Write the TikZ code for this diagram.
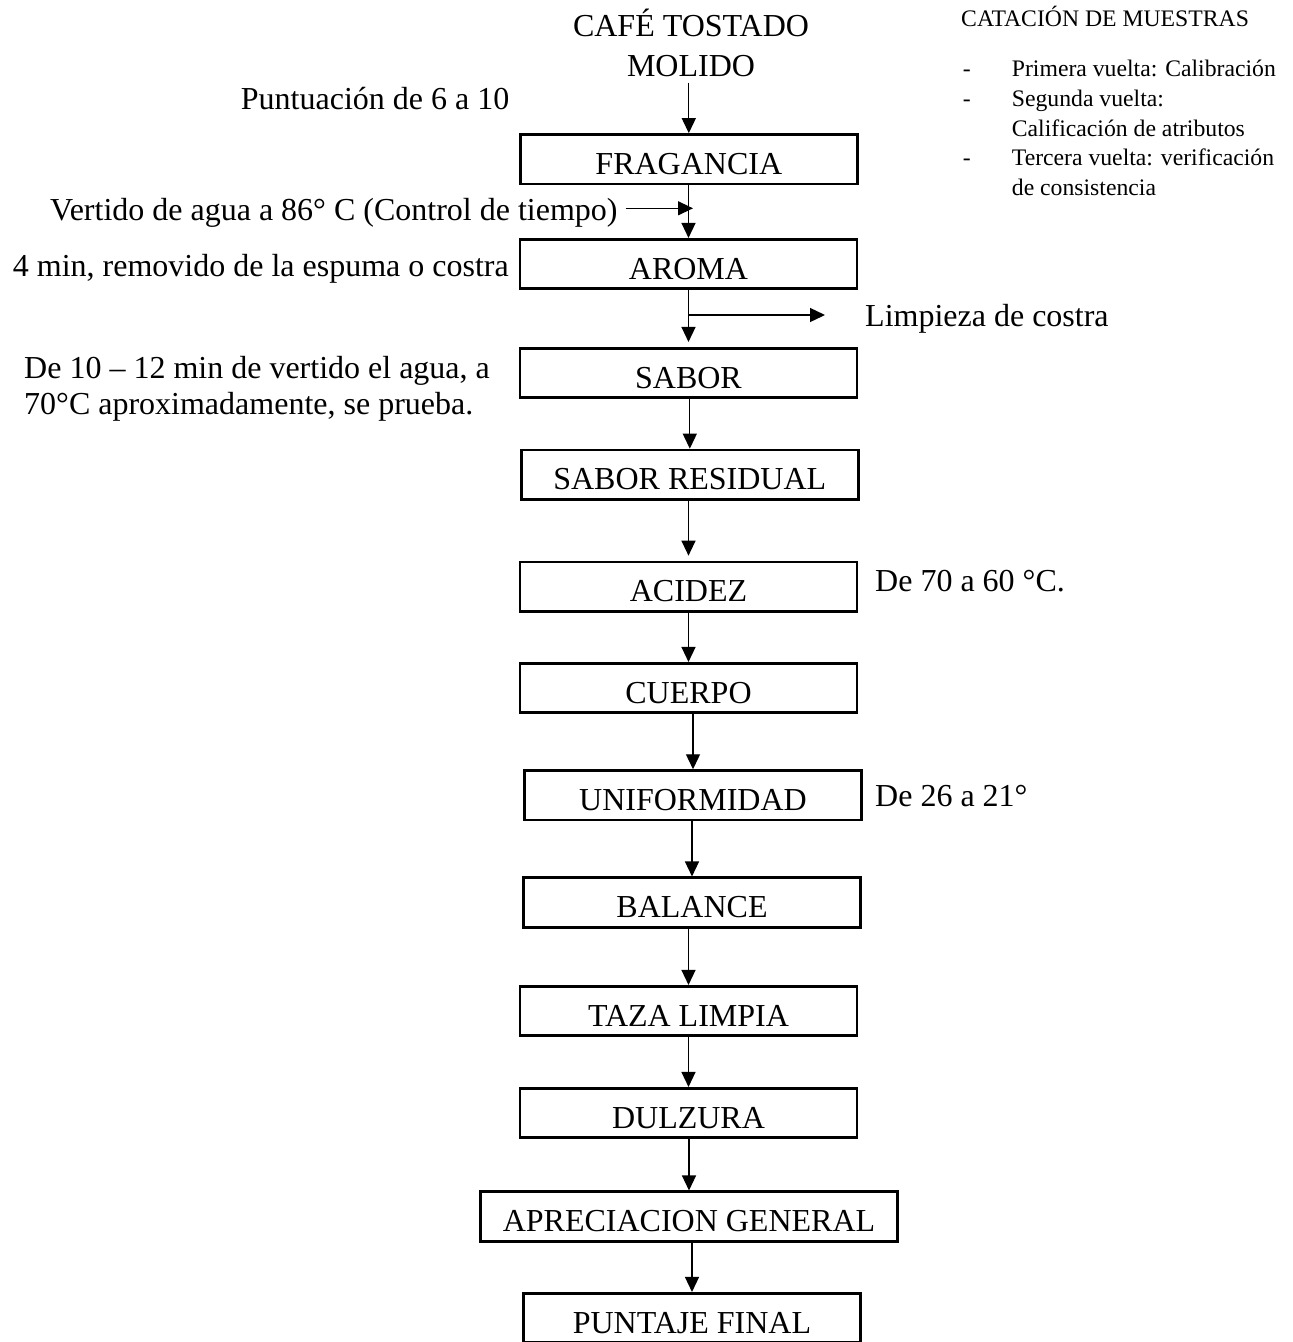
\documentclass[tikz,border=0pt]{standalone}
\usepackage{fontspec}
\setmainfont{Liberation Serif}
\usetikzlibrary{arrows.meta}
\begin{document}
\begin{tikzpicture}[x=1pt,y=-1pt,
  box/.style={draw,line width=2.6pt,minimum width=337pt,minimum height=49.5pt,inner sep=4pt,text height=30pt,text depth=0pt,font=\fontsize{32}{37}\selectfont},
  big/.style={inner sep=0pt,anchor=base west,font=\fontsize{32}{37}\selectfont},
  small/.style={inner sep=0pt,anchor=base west,font=\fontsize{23.7}{28}\selectfont},
  arr/.style={line width=1.3pt,-{Triangle[length=15pt,width=14pt]}}]
\path[use as bounding box,fill=white] (0,0) rectangle (1293,1342);

% title
\node[big,anchor=base] (t1) at (691,36.7) {CAFÉ TOSTADO};
\node[big,anchor=base] (t2) at (691,76) {MOLIDO};

% boxes
\node[box] (frag) at (688.8,159.2) {FRAGANCIA};
\node[box] (aroma) at (688.5,264) {AROMA};
\node[box] (sabor) at (688.5,373) {SABOR};
\node[box] (sres) at (689.8,474.7) {SABOR RESIDUAL};
\node[box] (acid) at (688.5,586.7) {ACIDEZ};
\node[box] (cuer) at (688.5,688) {CUERPO};
\node[box] (unif) at (693,795.3) {UNIFORMIDAD};
\node[box] (bal) at (692,902.5) {BALANCE};
\node[box] (taza) at (688.5,1011) {TAZA LIMPIA};
\node[box] (dul) at (688.5,1113) {DULZURA};
\node[box,minimum width=417.5pt] (apr) at (689,1216.5) {APRECIACION GENERAL};
\node[box] (punt) at (692,1318) {PUNTAJE FINAL};

% side texts left
\node[big] (ptn) at (240.7,109.3) {Puntuación de 6 a 10};
\node[big] (vert) at (50,220) {Vertido de agua a 86° C (Control de tiempo)};
\node[big] (cuatro) at (12.7,276.7) {4 min, removido de la espuma o costra};
\node[big] (dea) at (24,378.3) {De 10 – 12 min de vertido el agua, a};
\node[big] (deb) at (24,414.3) {70°C aproximadamente, se prueba.};

% side texts right
\node[big] (limp) at (865,326.7) {Limpieza de costra};
\node[big] (acidt) at (875,591.7) {De 70 a 60 °C.};
\node[big] (unift) at (875,806.7) {De 26 a 21°};

% catacion list
\node[small] (cat) at (961,26.7) {CATACIÓN DE MUESTRAS};
\node[small] (d1) at (962.7,76.7) {-};
\node[small] (l1) at (1011.7,76.7) {Primera vuelta: Calibración};
\node[small] (d2) at (962.7,106.7) {-};
\node[small] (l2) at (1011.7,106.7) {Segunda vuelta:};
\node[small] (l3) at (1011.7,136.7) {Calificación de atributos};
\node[small] (d3) at (962.7,165.7) {-};
\node[small] (l4) at (1011.7,165.7) {Tercera vuelta: verificación};
\node[small] (l5) at (1011.7,195) {de consistencia};

% connectors
\coordinate (vin) at (693,208.3);
\coordinate (ltip) at (825,315);
\draw[arr,shorten <=6pt] (frag.north |- t2.south) -- (frag.north);
\draw[arr] (aroma.north |- frag.south) -- (aroma.north);
\draw[arr,shorten <=8pt] (vert.east |- vin) -- (vin);
\draw[arr,shorten >=5pt] (sabor.north |- aroma.south) -- (sabor.north);
\draw[arr] (aroma.south |- ltip) -- (ltip);
\draw[arr] (sres.north |- sabor.south) -- (sres.north);
\draw[arr,shorten >=5pt] (acid.north |- sres.south) -- (acid.north);
\draw[arr] (cuer.north |- acid.south) -- (cuer.north);
\draw[arr] (unif.north |- cuer.south) -- (unif.north);
\draw[arr] (bal.north |- unif.south) -- (bal.north);
\draw[arr] (taza.north |- bal.south) -- (taza.north);
\draw[arr] (dul.north |- taza.south) -- (dul.north);
\draw[arr] (apr.north |- dul.south) -- (apr.north);
\draw[arr] (punt.north |- apr.south) -- (punt.north);
\end{tikzpicture}
\end{document}
